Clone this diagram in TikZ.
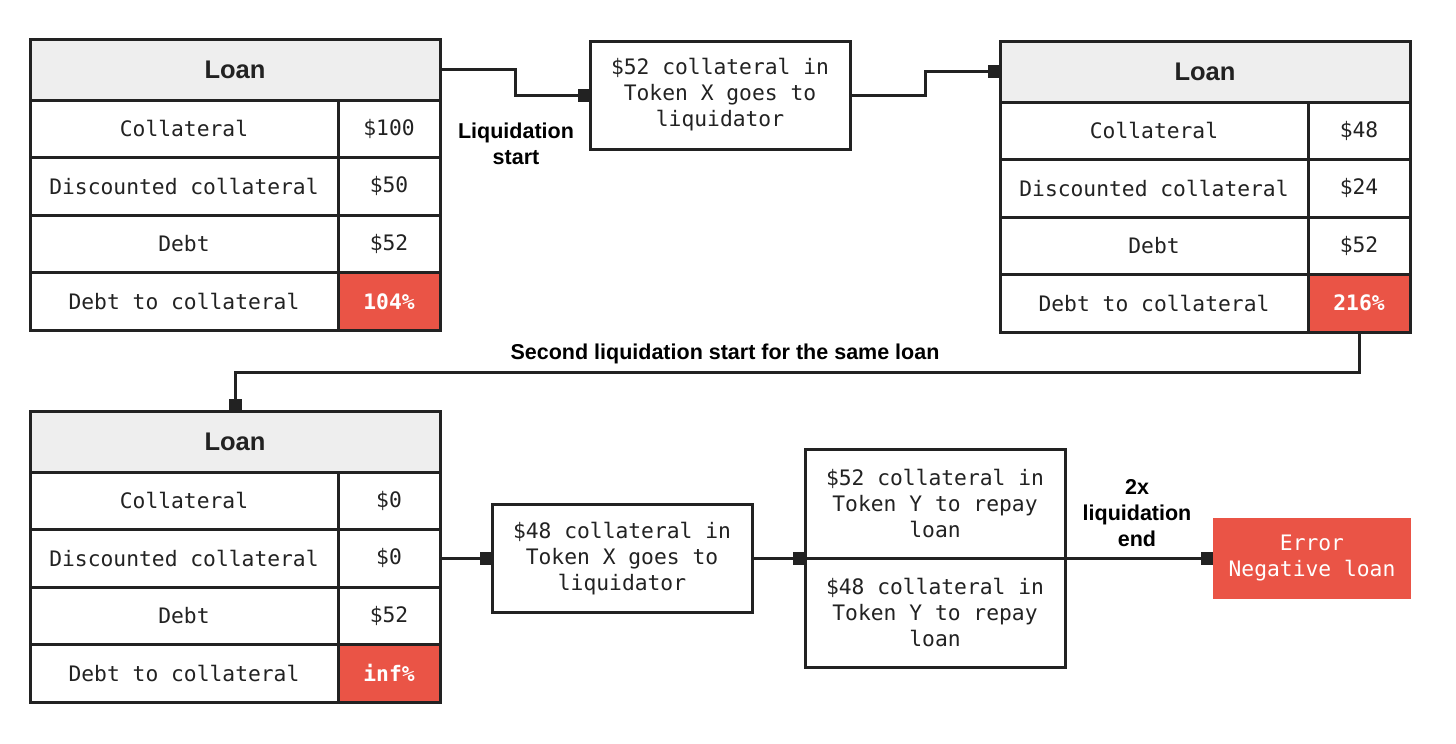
\documentclass[tikz,border=0pt]{standalone}
\usepackage{fontspec}
\setmainfont{Liberation Sans}
\newfontfamily\monofnt{DejaVu Sans Mono}
\usetikzlibrary{arrows.meta,calc}
\definecolor{ink}{HTML}{222222}
\definecolor{hdrfill}{HTML}{EEEEEE}
\definecolor{alert}{HTML}{EA5446}
\newcommand{\LoanTable}[7]{%
  \node[hdr, anchor=north west] (#1h) at (#2,#3) {Loan};
  \node[lab, anchor=north west] (#1l1) at (#2,#3+61) {Collateral};
  \node[val, anchor=north west] (#1v1) at (#2+308,#3+61) {#4};
  \node[lab, anchor=north west] (#1l2) at (#2,#3+118.5) {Discounted collateral};
  \node[val, anchor=north west] (#1v2) at (#2+308,#3+118.5) {#5};
  \node[lab, anchor=north west] (#1l3) at (#2,#3+176) {Debt};
  \node[val, anchor=north west] (#1v3) at (#2+308,#3+176) {#6};
  \node[lab, anchor=north west] (#1l4) at (#2,#3+233.5) {Debt to collateral};
  \node[val, redval, anchor=north west] (#1v4) at (#2+308,#3+233.5) {#7};
}
\begin{document}
\begin{tikzpicture}[x=1pt,y=-1pt,
  base/.style={draw=ink, line width=3pt, inner sep=0pt, outer sep=0pt, text=ink, align=center},
  monof/.style={font=\monofnt\fontsize{21.3}{26}\selectfont},
  hdr/.style={base, fill=hdrfill, minimum width=410pt, minimum height=61pt, font=\fontsize{25.5}{30}\selectfont\bfseries},
  lab/.style={base, monof, minimum width=308pt, minimum height=57.5pt},
  val/.style={base, monof, minimum width=102pt, minimum height=57.5pt},
  redval/.style={fill=alert, text=white, font=\monofnt\bfseries\fontsize{21.3}{26}\selectfont},
  txtbox/.style={base, monof, minimum width=260pt},
  note/.style={inner sep=0pt, text=black, align=center, font=\fontsize{21.5}{26}\selectfont\bfseries},
  conn/.style={draw=ink, line width=3pt, -{Square[length=12pt,width=13pt]}},
]
\useasboundingbox[fill=white] (0,0) rectangle (1456,744);

\LoanTable{ta}{30}{39}{\$100}{\$50}{\$52}{104\%}
\LoanTable{tb}{1000}{41}{\$48}{\$24}{\$52}{216\%}
\LoanTable{tc}{30}{411}{\$0}{\$0}{\$52}{inf\%}

\node[txtbox, minimum height=108pt, anchor=north west] (box1) at (590,41)
  {\$52 collateral in\\Token X goes to\\liquidator};
\node[txtbox, minimum height=108pt, anchor=north west] (box2) at (492,504.25)
  {\$48 collateral in\\Token X goes to\\liquidator};
\node[txtbox, minimum height=109pt, anchor=north west] (dblA) at (805,449.25)
  {\$52 collateral in\\Token Y to repay\\loan};
\node[txtbox, minimum height=109pt, anchor=north west] (dblB) at (805,558.25)
  {\$48 collateral in\\Token Y to repay\\loan};
\node[inner sep=0pt, outer sep=0pt, fill=alert, text=white, align=center,
      minimum width=198pt, minimum height=81pt, anchor=north west, monof] (err) at (1213,517.75)
  {Error\\Negative loan};

\node[note] (lbl1) at (516,144) {Liquidation\\start};
\node[note] (lbl2) at (725,354) {Second liquidation start for the same loan};
\node[note] (lbl3) at (1137,513) {2x\\liquidation\\end};

\draw[conn] (tah.east) -| ($(tah.east)!0.5!(box1.west)$) |- (box1.west);
\draw[conn] (box1.east) -| ($(box1.east)!0.5!(tbh.west)$) |- (tbh.west);
\draw[conn] (tbv4.south) -- ++(0,40) -| (tch.north);
\draw[conn] (tcv2.east) -- (box2.west);
\draw[conn] (box2.east) -- (dblA.south west);
\draw[conn] (dblA.south east) -- (err.west);
\end{tikzpicture}
\end{document}
